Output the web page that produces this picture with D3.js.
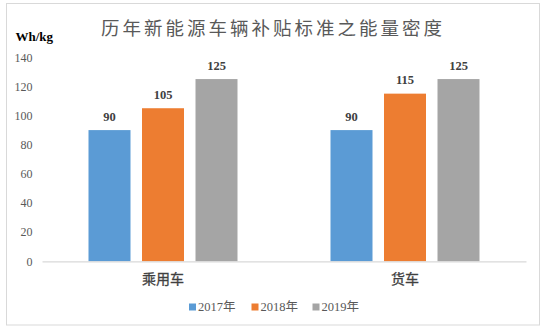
<!DOCTYPE html>
<html><head><meta charset="utf-8">
<script src="https://cdn.jsdelivr.net/npm/d3@7/dist/d3.min.js"></script>
<style>
html,body{margin:0;padding:0;background:#fff;}
svg{display:block;}
</style></head>
<body>
<script>
const categories = ["乘用车", "货车"];
const seriesNames = ["2017年", "2018年", "2019年"];
const values2017 = [90, 90];
const values2018 = [105, 115];
const values2019 = [125, 125];
const yTicks = [0, 20, 40, 60, 80, 100, 120, 140];
const colors = ["#5B9BD5", "#ED7D31", "#A5A5A5"];
const titleText = "历年新能源车辆补贴标准之能量密度";
const unitText = "Wh/kg";

const series = [values2017, values2018, values2019];
const W = 546, H = 331;
const serif = "'Liberation Serif','Times New Roman','Noto Sans CJK SC',serif";
const cjk = "'Liberation Serif','Noto Sans CJK SC',sans-serif";

const svg = d3.select("body").append("svg").attr("width", W).attr("height", H);

// outer border
svg.append("rect").attr("x", 6.5).attr("y", 3.5).attr("width", 533).attr("height", 321.5)
  .attr("fill", "#fff").attr("stroke", "#d9d9d9").attr("stroke-width", 1);

const plotL = 42, plotR = 526;
const y = d3.scaleLinear().domain([0, 140]).range([261.3, 57.2]);
const x0 = d3.scaleBand().domain(categories).range([plotL, plotR]).paddingInner(0).paddingOuter(0);
const groupPad = 46.5;
const x1 = d3.scaleBand().domain(d3.range(series.length))
  .range([groupPad, x0.bandwidth() - groupPad]).paddingInner(0.215).paddingOuter(0);

// title
svg.append("text").attr("x", 273).attr("y", 29).attr("text-anchor", "middle")
  .attr("dominant-baseline", "central")
  .style("font-family", cjk).style("font-size", "18.5px").style("letter-spacing", "3px")
  .attr("fill", "#595959").text(titleText);

// unit
svg.append("text").attr("x", 15.5).attr("y", 41)
  .style("font-family", serif).style("font-size", "13px").style("font-weight", "bold")
  .attr("fill", "#000").text(unitText);

// y axis labels
const yAxis = d3.axisLeft(y).tickValues(yTicks).tickSize(0).tickPadding(0);
const gy = svg.append("g").attr("transform", "translate(32.5,0)").call(yAxis);
gy.select(".domain").remove();
gy.selectAll("text").style("font-family", serif).style("font-size", "12px")
  .attr("fill", "#595959").attr("dy", "0.32em");

// bars
const groups = svg.append("g").selectAll("g").data(categories).join("g")
  .attr("transform", d => `translate(${x0(d)},0)`);

groups.each(function(cat, ci) {
  const g = d3.select(this);
  series.forEach((vals, si) => {
    const v = vals[ci];
    g.append("rect").attr("x", x1(si)).attr("width", x1.bandwidth())
      .attr("y", y(v)).attr("height", y(0) - y(v)).attr("fill", colors[si]);
    g.append("text").attr("x", x1(si) + x1.bandwidth() / 2).attr("y", y(v) - 13.5)
      .attr("text-anchor", "middle").attr("dominant-baseline", "central")
      .style("font-family", serif).style("font-size", "12.5px").style("font-weight", "bold")
      .attr("fill", "#404040").text(v);
  });
});

// x axis
const xAxis = d3.axisBottom(x0).tickSize(0).tickPadding(0);
const gx = svg.append("g").attr("transform", `translate(0,${y(0)})`).call(xAxis);
gx.select(".domain").attr("stroke", "#d9d9d9").attr("stroke-width", 1.2);
gx.selectAll("text").attr("y", 17.5).attr("dy", "0.35em")
  .style("font-family", cjk).style("font-size", "14px").style("font-weight", "normal")
  .attr("fill", "#404040").style("stroke", "#404040").style("stroke-width", "0.3px");

// legend
const legendX = [189, 251.5, 312.5];
const leg = svg.append("g").selectAll("g").data(seriesNames).join("g")
  .attr("transform", (d, i) => `translate(${legendX[i]},0)`);
leg.append("rect").attr("x", 0).attr("y", 303.5).attr("width", 7).attr("height", 7)
  .attr("fill", (d, i) => colors[i]);
leg.append("text").attr("x", 9).attr("y", 306.5).attr("dominant-baseline", "central")
  .style("font-family", cjk).style("font-size", "12.5px").attr("fill", "#595959")
  .text(d => d);
</script>
</body></html>
